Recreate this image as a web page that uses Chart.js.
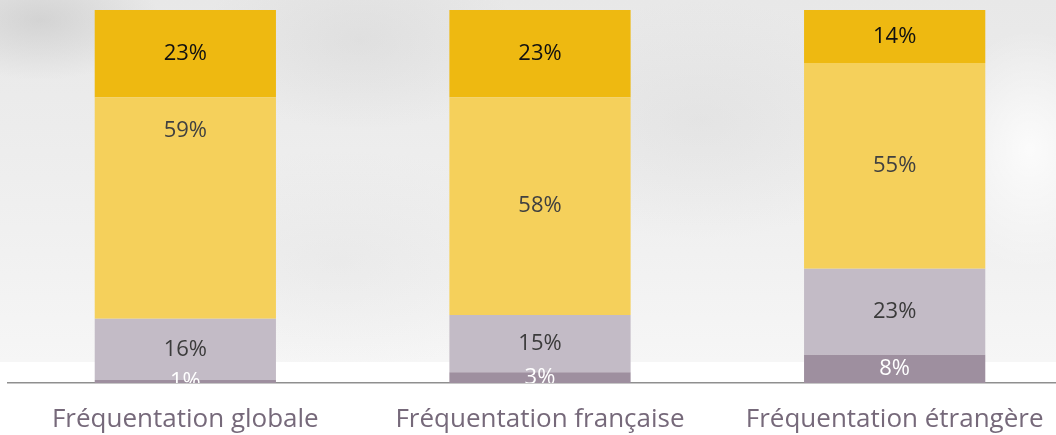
<!DOCTYPE html>
<html>
<head>
<meta charset="utf-8">
<script src="https://cdn.jsdelivr.net/npm/chart.js@4/dist/chart.umd.min.js"></script>
<style>
  html, body { margin: 0; padding: 0; overflow: hidden; }
  body { width: 1056px; height: 435px; position: relative; background: #ffffff; }
  /* misty photo background, approximated with gradients */
  #bg {
    position: absolute; left: 0; top: 0; width: 1056px; height: 362px;
    background:
      radial-gradient(ellipse 120px 60px at 40px 20px, rgba(190,190,190,0.5), rgba(190,190,190,0) 100%),
      radial-gradient(ellipse 160px 90px at 360px 40px, rgba(205,205,205,0.35), rgba(205,205,205,0) 100%),
      radial-gradient(ellipse 200px 120px at 700px 120px, rgba(210,210,210,0.3), rgba(210,210,210,0) 100%),
      radial-gradient(ellipse 90px 120px at 1030px 150px, rgba(255,255,255,0.8), rgba(255,255,255,0) 100%),
      radial-gradient(ellipse 220px 110px at 340px 260px, rgba(218,218,218,0.3), rgba(218,218,218,0) 100%),
      linear-gradient(to bottom, #e8e8e8 0%, #ececec 35%, #f1f1f1 70%, #f6f6f6 100%);
  }
  #wrap { position: absolute; left: 0; top: 0; width: 1072px; height: 435px; }
</style>
</head>
<body>
<div id="bg"></div>
<div id="wrap"><canvas id="stackChart"></canvas></div>
<script>
// categories (x axis)
const categories = ['Fréquentation globale', 'Fréquentation française', 'Fréquentation étrangère'];

// shares in %, bottom segment first
const shareDark   = [0.8, 2.9, 7.6];
const shareLight  = [16.4, 15.3, 23.0];
const shareYellow = [59.4, 58.4, 55.2];
const shareGold   = [23.4, 23.4, 14.2];

const FONT = "'Open Sans', 'DejaVu Sans', sans-serif";

// percentage labels inside every segment, clipped at the axis like the original
const segmentLabels = {
    id: 'segmentLabels',
    afterDatasetsDraw(chart) {
        const ctx = chart.ctx;
        const area = chart.chartArea;
        ctx.save();
        ctx.beginPath();
        ctx.rect(area.left, area.top, area.right - area.left, area.bottom - area.top);
        ctx.clip();
        ctx.font = '22px ' + FONT;
        ctx.textAlign = 'center';
        ctx.textBaseline = 'middle';
        chart.data.datasets.forEach((ds, di) => {
            const meta = chart.getDatasetMeta(di);
            meta.data.forEach((bar, i) => {
                let y = (bar.y + bar.base) / 2;
                // the 59% label sits high in the original
                if (di === 2 && i === 0) y -= 77;
                ctx.fillStyle = ds.labelColor;
                ctx.fillText(Math.round(ds.data[i]) + '%', bar.x, y);
            });
        });
        ctx.restore();
    }
};

new Chart(document.getElementById('stackChart'), {
    type: 'bar',
    data: {
        labels: categories,
        datasets: [
            { label: 'a', data: shareDark,   backgroundColor: '#9e8f9f', labelColor: '#ffffff' },
            { label: 'b', data: shareLight,  backgroundColor: '#c3bbc6', labelColor: '#3b3b3b' },
            { label: 'c', data: shareYellow, backgroundColor: '#f5d05b', labelColor: '#404040' },
            { label: 'd', data: shareGold,   backgroundColor: '#eeb911', labelColor: '#111111' }
        ]
    },
    options: {
        responsive: true,
        maintainAspectRatio: false,
        animation: false,
        layout: { padding: { top: 10, left: 8, right: 0, bottom: 0 } },
        datasets: {
            bar: { categoryPercentage: 1, barPercentage: 0.511, borderWidth: 0 }
        },
        plugins: {
            legend: { display: false },
            tooltip: { enabled: false }
        },
        scales: {
            x: {
                stacked: true,
                grid: { display: false, drawTicks: false },
                border: { display: true, color: '#8f8f8f', width: 1.5 },
                ticks: {
                    color: '#76697a',
                    padding: 21,
                    font: { family: FONT, size: 26 }
                },
                afterFit(scale) { scale.height = 52; }
            },
            y: {
                stacked: true,
                display: false,
                min: 0,
                max: 100
            }
        }
    },
    plugins: [segmentLabels]
});
</script>
</body>
</html>
